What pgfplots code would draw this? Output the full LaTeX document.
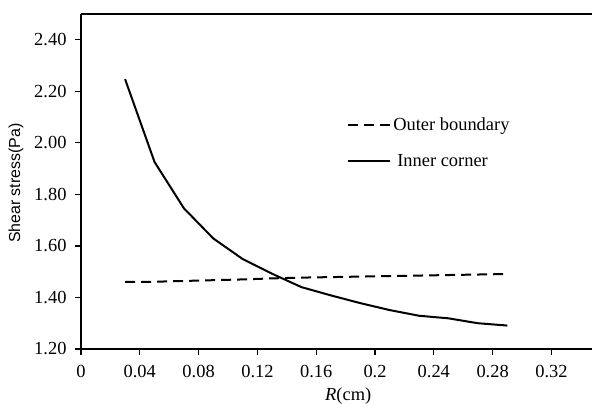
\documentclass[border=0pt]{standalone}
\usepackage{fontspec}
\setmainfont{Liberation Serif}
\newfontfamily\arialfont{Liberation Sans}
\usepackage{pgfplots}
\pgfplotsset{compat=1.18}
\begin{document}
\begin{tikzpicture}
\begin{axis}[
  at={(0,0)}, anchor=south west,
  scale only axis,
  width=511bp, height=335bp,
  xmin=0, xmax=0.3476,
  ymin=1.20, ymax=2.50,
  axis lines=left,
  axis line style={-, line width=1.4bp, black},
  tick align=outside,
  major tick length=6bp,
  tick style={line width=1.2bp, black},
  xtick={0,0.04,0.08,0.12,0.16,0.2,0.24,0.28,0.32},
  xticklabels={0,0.04,0.08,0.12,0.16,0.2,0.24,0.28,0.32},
  ytick={1.2,1.4,1.6,1.8,2.0,2.2,2.4},
  yticklabels={1.20,1.40,1.60,1.80,2.00,2.20,2.40},
  scaled x ticks=false, scaled y ticks=false,
  ticklabel style={font=\fontsize{18.5}{22}\selectfont},
  xticklabel style={yshift=-7bp},
  yticklabel style={xshift=-5bp},
  xlabel={\textit{R}(cm)},
  xlabel style={at={(axis description cs:0.523,0)}, anchor=center, yshift=-47bp, font=\fontsize{18.5}{22}\selectfont},
  ylabel={Shear stress(Pa)},
  ylabel style={at={(axis description cs:-0.127,0.495)}, anchor=center, font=\arialfont\fontsize{16}{19}\selectfont},
  clip=false,
  legend style={at={(axis cs:0.181,2.106)}, anchor=north west, draw=none, fill=none, inner sep=0pt,
    font=\fontsize{18.5}{22}\selectfont, row sep=18bp, legend cell align=left},
  legend image code/.code={\draw[#1] (0bp,0bp) -- (42bp,0bp);},
]
\addplot[black, line width=2bp, dash pattern=on 10bp off 6bp] coordinates {
 (0.03,1.460) (0.05,1.461) (0.07,1.464) (0.09,1.467) (0.11,1.470) (0.13,1.474)
 (0.15,1.477) (0.17,1.479) (0.19,1.481) (0.21,1.483) (0.23,1.485) (0.25,1.487)
 (0.27,1.489) (0.29,1.491)};
\addlegendentry{Outer boundary}
\addplot[black, line width=2bp] coordinates {
 (0.03,2.247) (0.05,1.926) (0.07,1.746) (0.09,1.629) (0.11,1.549) (0.13,1.492)
 (0.15,1.440) (0.17,1.408) (0.19,1.378) (0.21,1.351) (0.23,1.329) (0.25,1.319)
 (0.27,1.300) (0.29,1.291)};
\addlegendentry{\hspace{4bp}Inner corner}
\draw[line width=1.4bp, black] (rel axis cs:0,1) -- (rel axis cs:1,1);
\end{axis}
\pgfresetboundingbox
\path[use as bounding box] (-81bp,-55bp) rectangle (511bp,349bp);
\end{tikzpicture}
\end{document}
